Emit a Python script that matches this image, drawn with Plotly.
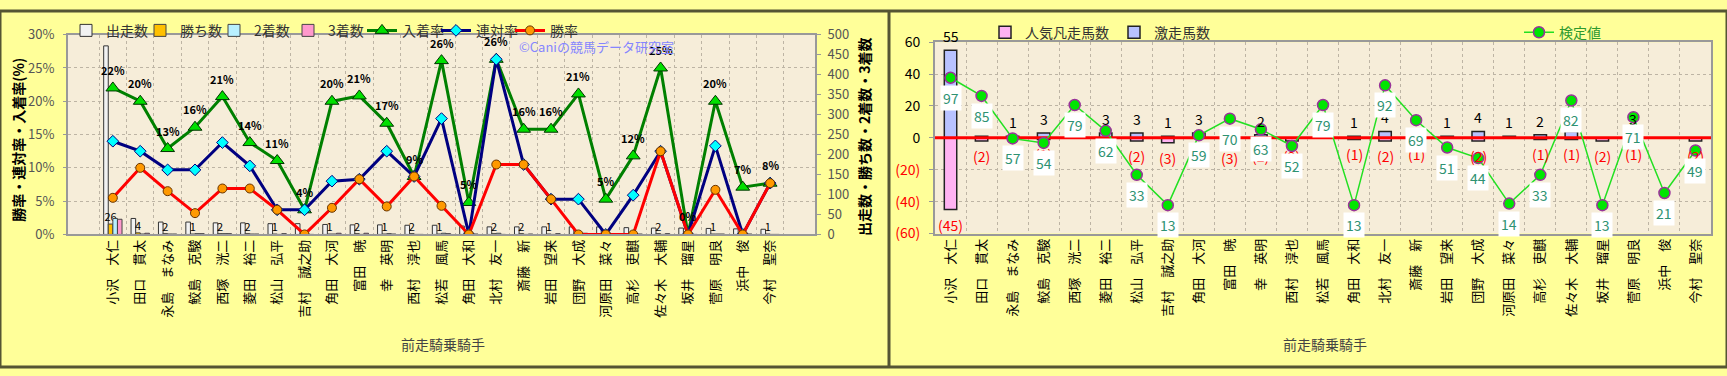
import plotly.graph_objects as go

W, H = 1727, 376

jockeys = ["小沢　大仁", "田口　貫太", "永島　まなみ", "鮫島　克駿", "西塚　洸二", "菱田　裕二",
           "松山　弘平", "吉村　誠之助", "角田　大河", "富田　暁", "幸　英明", "西村　淳也",
           "松若　風馬", "角田　大和", "北村　友一", "斎藤　新", "岩田　望来", "団野　大成",
           "河原田　菜々", "高杉　吏麒", "佐々木　大輔", "坂井　瑠星", "菅原　明良", "浜中　俊", "今村　聖奈"]

# left chart: counts
runs = [472, 40, 31, 31, 29, 29, 27, 27, 25, 24, 24, 23, 23, 21, 19, 19, 19, 19, 19, 17, 16, 16, 15, 14, 13]
wins = [26, 4, 2, 1, 2, 2, 1, 0, 1, 2, 1, 2, 1, 0, 2, 2, 1, 0, 0, 0, 2, 0, 1, 0, 1]
seconds = [40, 1, 1, 2, 2, 1, 0, 1, 1, 0, 2, 0, 3, 0, 3, 0, 0, 1, 0, 1, 0, 0, 1, 0, 0]
thirds = [38, 3, 1, 2, 2, 1, 2, 0, 3, 3, 1, 0, 2, 1, 0, 1, 2, 3, 1, 1, 2, 0, 1, 1, 0]
# left chart: rates (%)
win_rate = [5.5, 10.0, 6.5, 3.2, 6.9, 6.9, 3.7, 0.0, 4.0, 8.3, 4.2, 8.7, 4.3, 0.0, 10.5, 10.5, 5.3, 0.0, 0.0, 0.0, 12.5, 0.0, 6.7, 0.0, 7.7]
rentai_rate = [14.0, 12.5, 9.7, 9.7, 13.8, 10.3, 3.7, 3.7, 8.0, 8.3, 12.5, 8.7, 17.4, 0.0, 26.3, 10.5, 5.3, 5.3, 0.0, 5.9, 12.5, 0.0, 13.3, 0.0, 7.7]
place_rate = [22.0, 20.0, 12.9, 16.1, 20.7, 13.8, 11.1, 3.7, 20.0, 20.8, 16.7, 8.7, 26.1, 4.8, 26.3, 15.8, 15.8, 21.1, 5.3, 11.8, 25.0, 0.0, 20.0, 7.1, 7.7]

# right chart
gekisou = [55, 1, 1, 3, 3, 3, 3, 1, 3, 0, 2, 0, 4, 1, 4, 0, 1, 4, 1, 2, 4, 0, 3, 0, 0]
bonsou = [45, 2, 0, 1, 0, 1, 2, 3, 0, 3, 2, 2, 0, 1, 2, 1, 0, 2, 0, 1, 1, 2, 1, 0, 2]
kentei = [97, 85, 57, 54, 79, 62, 33, 13, 59, 70, 63, 52, 79, 13, 92, 69, 51, 44, 14, 33, 82, 13, 71, 21, 49]

right_ticks = [60, 40, 20, 0, -20, -40, -60]


def px(x):
    return x / W


def py(y):
    return 1 - y / H


FONT = "Noto Sans CJK JP"
GRID = "#BDB4A4"

fig = go.Figure()

# ---------- left chart bars ----------
fig.add_trace(go.Bar(name="出走数", x=jockeys, y=runs, xaxis="x", yaxis="y",
                     marker=dict(color="#F2F2F2", line=dict(color="#333333", width=1)), legend="legend"))
fig.add_trace(go.Bar(name="勝ち数", x=jockeys, y=wins, xaxis="x", yaxis="y",
                     marker=dict(color="#FFC000", line=dict(color="#444444", width=1)),
                     text=[str(v) if v > 0 else "" for v in wins], textposition="outside",
                     textfont=dict(size=11, color="black", family=FONT), constraintext="none",
                     cliponaxis=False, legend="legend"))
fig.add_trace(go.Bar(name="2着数", x=jockeys, y=seconds, xaxis="x", yaxis="y",
                     marker=dict(color="#B8F0FF", line=dict(color="#444444", width=1)), legend="legend"))
fig.add_trace(go.Bar(name="3着数", x=jockeys, y=thirds, xaxis="x", yaxis="y",
                     marker=dict(color="#FF99CC", line=dict(color="#444444", width=1)), legend="legend"))

# ---------- left chart lines ----------
fig.add_trace(go.Scatter(name="入着率", x=jockeys, y=place_rate, xaxis="x", yaxis="y2", mode="lines+markers",
                         line=dict(color="#008000", width=3),
                         marker=dict(symbol="triangle-up", size=12, color="#00E000", line=dict(color="#003300", width=1)),
                         legend="legend"))
fig.add_trace(go.Scatter(name="連対率", x=jockeys, y=rentai_rate, xaxis="x", yaxis="y2", mode="lines+markers",
                         line=dict(color="#000080", width=3),
                         marker=dict(symbol="diamond", size=9, color="#00FFFF", line=dict(color="#000080", width=1)),
                         legend="legend"))
fig.add_trace(go.Scatter(name="勝率", x=jockeys, y=win_rate, xaxis="x", yaxis="y2", mode="lines+markers",
                         line=dict(color="#FF0000", width=3),
                         marker=dict(symbol="circle", size=9, color="#FF9900", line=dict(color="#663300", width=1)),
                         legend="legend"))

# ---------- right chart ----------
xi = list(range(len(jockeys)))
fig.add_trace(go.Bar(name="人気凡走馬数", x=xi, y=[-v for v in bonsou], xaxis="x2", yaxis="y3",
                     width=0.4, offset=-0.2,
                     marker=dict(color="#FFB3F2", line=dict(color="#222222", width=1.5)), legend="legend2"))
fig.add_trace(go.Bar(name="激走馬数", x=xi, y=gekisou, xaxis="x2", yaxis="y3",
                     width=0.4, offset=-0.2,
                     marker=dict(color="#B8C2FF", line=dict(color="#222222", width=1.5)), legend="legend2"))
fig.add_trace(go.Scatter(x=[xi[0] - 0.5, xi[-1] + 0.5], y=[0, 0], xaxis="x2", yaxis="y3", mode="lines",
                         line=dict(color="#FF0000", width=3), showlegend=False, hoverinfo="skip"))
fig.add_trace(go.Scatter(name="検定値", x=xi, y=kentei, xaxis="x2", yaxis="y4", mode="lines+markers",
                         line=dict(color="#22E022", width=1.5),
                         marker=dict(size=11, color="#00E600", line=dict(color="#993399", width=1.5)),
                         legend="legend3"))

annotations = []
# place-rate labels
for j, v in zip(jockeys, place_rate):
    annotations.append(dict(x=j, y=v, xref="x", yref="y2", text=f"<b>{v:.0f}%</b>", showarrow=False,
                            yshift=18, font=dict(size=11, color="black", family=FONT)))
# right chart bar labels
for i, v in zip(xi, gekisou):
    if v > 0:
        annotations.append(dict(x=i, y=v, xref="x2", yref="y3", text=str(v), showarrow=False, yshift=14,
                                font=dict(size=14, color="black", family=FONT)))
for i, v in zip(xi, bonsou):
    if v > 0:
        annotations.append(dict(x=i, y=-v, xref="x2", yref="y3", text=f"({v})", showarrow=False, yshift=-15,
                                font=dict(size=14, color="#FF0000", family=FONT)))
for i, v in zip(xi, kentei):
    annotations.append(dict(x=i, y=v, xref="x2", yref="y4", text=str(v), showarrow=False, yshift=-20,
                            bgcolor="white", borderpad=2, font=dict(size=14, color="#2E9272", family=FONT)))

# titles / watermark
annotations += [
    dict(x=px(18), y=py(136), xref="paper", yref="paper", xanchor="center", yanchor="middle",
         text="<b>勝率・連対率・入着率(%)</b>", textangle=-90,
         showarrow=False, font=dict(size=14, color="black", family=FONT)),
    dict(x=px(864), y=py(133), xref="paper", yref="paper", xanchor="center", yanchor="middle",
         text="<b>出走数・勝ち数・2着数・3着数</b>", textangle=-90,
         showarrow=False, font=dict(size=14, color="black", family=FONT)),
    dict(x=px(443), y=py(352), xref="paper", yref="paper", xanchor="center", yanchor="middle",
         text="前走騎乗騎手", showarrow=False, font=dict(size=14, color="#444444", family=FONT)),
    dict(x=px(1325), y=py(352), xref="paper", yref="paper", xanchor="center", yanchor="middle",
         text="前走騎乗騎手", showarrow=False, font=dict(size=14, color="#444444", family=FONT)),
    dict(x=px(596), y=py(37), xref="paper", yref="paper", xanchor="center", yanchor="middle",
         text="©Caniの競馬データ研究室", showarrow=False, font=dict(size=13, color="#8585FF", family=FONT)),
]

rt_text = [str(v) if v >= 0 else f"<span style='color:#FF0000'>({-v})</span>" for v in right_ticks]

fig.update_layout(
    width=W, height=H, margin=dict(l=0, r=0, t=0, b=0),
    paper_bgcolor="#FFFF99", plot_bgcolor="#F6EDD9",
    barmode="group", bargap=0.33, bargroupgap=0,
    font=dict(family=FONT, size=13, color="#333333"),
    showlegend=True,
    xaxis=dict(domain=[px(68), px(815)], anchor="y", type="category", tickangle=-90, tickson="boundaries",
               showgrid=True, gridcolor=GRID, griddash="dot", gridwidth=1,
               showline=True, mirror=True, linecolor="#999999", linewidth=2, ticks="",
               ticklabelstandoff=-2, tickfont=dict(size=13, color="black", family=FONT)),
    yaxis=dict(domain=[py(236), py(25)], anchor="x", side="right", range=[0, 500], dtick=50, showgrid=False,
               zeroline=False, ticks="outside", ticklen=4, tickcolor="#999999", ticklabelstandoff=4,
               tickfont=dict(size=13, color="#555555", family=FONT),
               showline=True, mirror=True, linecolor="#999999", linewidth=2),
    yaxis2=dict(overlaying="y", anchor="x", side="left", range=[0, 30], dtick=5, ticksuffix="%",
                showgrid=True, gridcolor=GRID, griddash="dot", zeroline=False,
                ticks="outside", ticklen=4, tickcolor="#999999", ticklabelstandoff=6,
                tickfont=dict(size=13, color="#555555", family=FONT)),
    xaxis2=dict(domain=[px(935), px(1711)], anchor="y3", range=[-0.5, len(jockeys) - 0.5],
                tickmode="array", tickvals=xi, ticktext=jockeys, tickangle=-90, showgrid=False, zeroline=False,
                minor=dict(tickmode="array", tickvals=[i + 0.5 for i in xi[:-1]], showgrid=True,
                           gridcolor=GRID, griddash="dot", ticks=""),
                showline=True, mirror=True, linecolor="#999999", linewidth=2, ticks="",
                ticklabelstandoff=-2, tickfont=dict(size=13, color="black", family=FONT)),
    yaxis3=dict(domain=[py(235), py(33)], anchor="x2", range=[-60, 60], tickmode="array",
                tickvals=right_ticks, ticktext=rt_text, showgrid=True, gridcolor=GRID, griddash="dot",
                zeroline=False, showline=True, mirror=True, linecolor="#999999", linewidth=2,
                ticks="outside", ticklen=4, tickcolor="#999999", ticklabelstandoff=6,
                tickfont=dict(size=14, color="black", family=FONT)),
    yaxis4=dict(overlaying="y3", anchor="x2", range=[-5.7, 120.4], visible=False),
    legend=dict(orientation="h", x=px(66), xanchor="left", y=py(4), yanchor="top",
                bgcolor="rgba(0,0,0,0)", font=dict(size=14, color="#333333", family=FONT),
                entrywidth=29, entrywidthmode="pixels", traceorder="normal"),
    legend2=dict(orientation="h", x=px(985), xanchor="left", y=py(6), yanchor="top",
                 bgcolor="rgba(0,0,0,0)", font=dict(size=14, color="#333333", family=FONT)),
    legend3=dict(orientation="h", x=px(1519), xanchor="left", y=py(6), yanchor="top",
                 bgcolor="rgba(0,0,0,0)", font=dict(size=14, color="#2E9A2E", family=FONT)),
    annotations=annotations,
    shapes=[
        dict(type="rect", xref="paper", yref="paper", x0=0, y0=0, x1=1, y1=1,
             line=dict(color="#555533", width=3)),
        dict(type="line", xref="paper", yref="paper", x0=px(889), x1=px(889), y0=0, y1=1,
             line=dict(color="#555533", width=3)),
    ],
)

fig.write_html("out.html")
